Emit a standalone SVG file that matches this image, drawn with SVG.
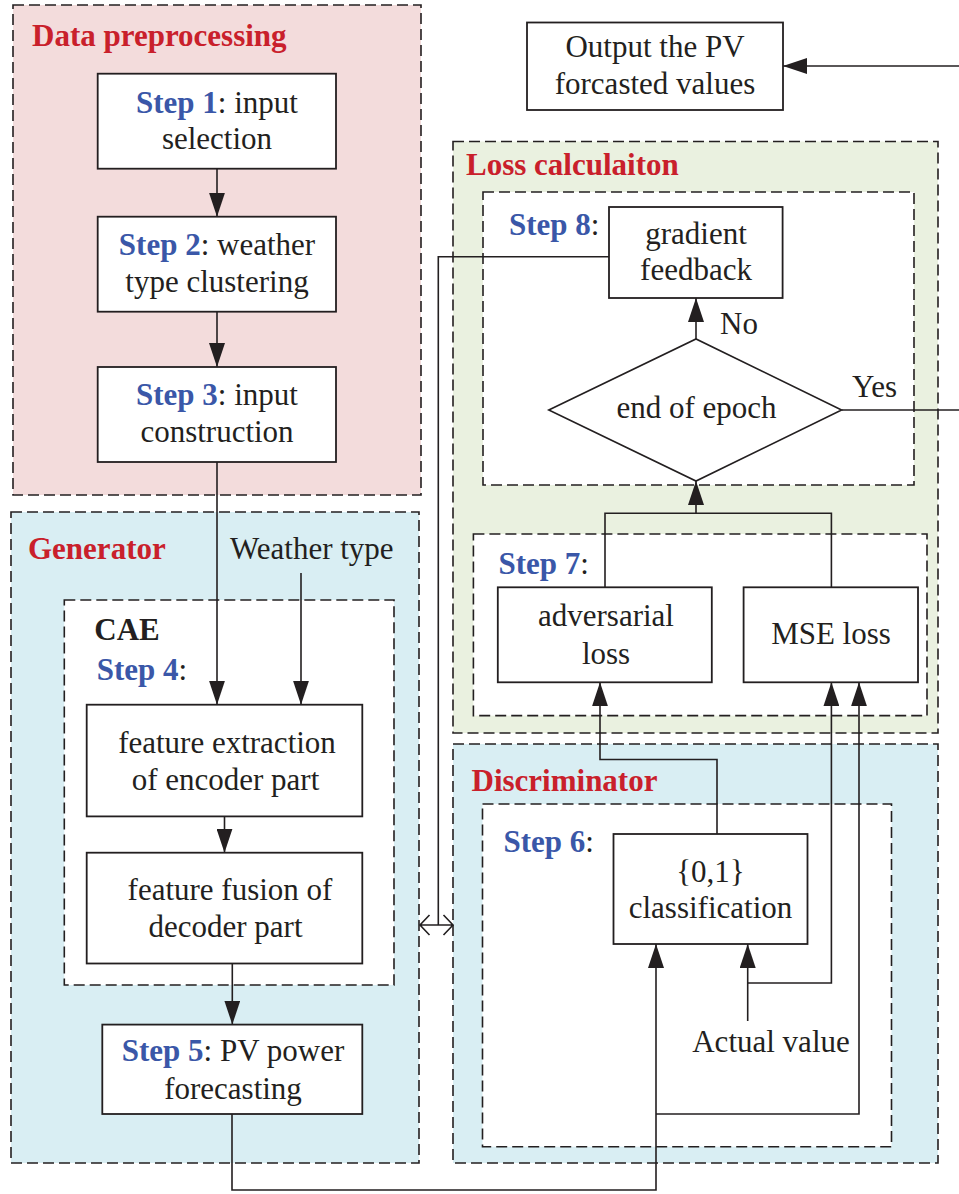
<svg xmlns="http://www.w3.org/2000/svg" width="959" height="1194" viewBox="0 0 959 1194">
<style>
text{font-family:"Liberation Serif","Times New Roman",serif;font-size:31px;fill:#231f20}
.t{font-weight:bold;fill:#c9202b}
.s{font-weight:bold;fill:#3a57a8}
.m{text-anchor:middle}
.box{fill:#fff;stroke:#231f20;stroke-width:1.8}
.grp{stroke:#231f20;stroke-width:1.6;stroke-dasharray:11 5}
.inner{fill:#fff;stroke:#231f20;stroke-width:1.6;stroke-dasharray:11 5}
.ln{fill:none;stroke:#231f20;stroke-width:1.6}
.ar{fill:none;stroke:#231f20;stroke-width:1.6;marker-end:url(#ah)}
</style>
<defs>
<marker id="ah" viewBox="0 0 24 16" refX="24" refY="8" markerWidth="24" markerHeight="16" orient="auto" markerUnits="userSpaceOnUse">
<path d="M0,0 L24,8 L0,16 z" fill="#231f20"/>
</marker>
</defs>
<rect width="959" height="1194" fill="#fff"/>
<g id="containers">
<rect id="data-preprocessing" x="13" y="5" width="408" height="490" fill="#f3dcdc" class="grp"/>
<rect id="generator" x="11" y="512" width="408" height="651" fill="#d9eef3" class="grp"/>
<rect id="loss-calculation" x="453" y="141.5" width="485" height="591.5" fill="#eaf1e0" class="grp"/>
<rect id="discriminator" x="453" y="744" width="485" height="419" fill="#d9eef3" class="grp"/>
<rect id="cae" x="64.3" y="600" width="329.7" height="385" class="inner"/>
<rect id="step8-area" x="483" y="192" width="431" height="293" class="inner"/>
<rect id="step7-area" x="473.4" y="534" width="453.6" height="181.6" class="inner"/>
<rect id="step6-area" x="482.5" y="804" width="409" height="342.7" class="inner"/>
<text class="t" x="32" y="46">Data preprocessing</text>
<text class="t" x="28" y="558.5">Generator</text>
<text class="t" x="466" y="175">Loss calculaiton</text>
<text class="t" x="471.5" y="791">Discriminator</text>
<text x="94.3" y="640" style="font-weight:bold">CAE</text>
<text x="96.7" y="680.4"><tspan class="s">Step 4</tspan>:</text>
<text x="509" y="235"><tspan class="s">Step 8</tspan>:</text>
<text x="498.5" y="573.6"><tspan class="s">Step 7</tspan>:</text>
<text x="503.5" y="852"><tspan class="s">Step 6</tspan>:</text>
<text x="230" y="558.5">Weather type</text>
<text class="m" x="771" y="1052">Actual value</text>
<text x="720" y="334">No</text>
<text x="852" y="397">Yes</text>
</g>
<g id="connectors">
<path class="ar" d="M217,169 V216.7"/>
<path class="ar" d="M217,312 V367"/>
<path class="ar" d="M217,462 V704.7"/>
<path class="ar" d="M301,573 V704.7"/>
<path class="ar" d="M224.5,816.4 V852.7"/>
<path class="ar" d="M232.3,963.5 V1024.6"/>
<path class="ar" d="M232,1114 V1190 H656 V944"/>
<path class="ar" d="M656,1114 H859 V682.3"/>
<path class="ar" d="M747.7,1021 V944"/>
<path class="ar" d="M747.7,983 H831.4 V682.3"/>
<path class="ar" d="M717,834 V759.5 H600 V682.3"/>
<path class="ln" d="M605,587.3 V513.3 H831.4 V587.3"/>
<path class="ar" d="M696,513.3 V481"/>
<path class="ar" d="M696,339 V298"/>
<path class="ln" d="M841.6,410 H959"/>
<path class="ar" d="M959,66 H783"/>
<path class="ln" d="M609,256.7 H438.3 V925"/>
<path class="ln" d="M420,925 H453 M429.5,915 L420,925 L429.5,935 M443.5,915 L453,925 L443.5,935"/>
</g>
<g id="output">
<rect class="box" x="527" y="22.5" width="256" height="87.5"/>
<text class="m" x="655" y="57">Output the PV</text>
<text class="m" x="655" y="94">forcasted values</text>
</g>
<g id="step1">
<rect class="box" x="97.7" y="73.7" width="238.3" height="95"/>
<text class="m" x="217" y="112.7"><tspan class="s">Step 1</tspan>: input</text>
<text class="m" x="217" y="149">selection</text>
</g>
<g id="step2">
<rect class="box" x="97.7" y="216.7" width="238.3" height="95"/>
<text class="m" x="217" y="255"><tspan class="s">Step 2</tspan>: weather</text>
<text class="m" x="217" y="292">type clustering</text>
</g>
<g id="step3">
<rect class="box" x="97.7" y="367" width="238.3" height="95"/>
<text class="m" x="217" y="405"><tspan class="s">Step 3</tspan>: input</text>
<text class="m" x="217" y="442">construction</text>
</g>
<g id="feature-extraction">
<rect class="box" x="86.7" y="704.7" width="275.6" height="111.7"/>
<text class="m" x="227" y="753">feature extraction</text>
<text class="m" x="225.5" y="790">of encoder part</text>
</g>
<g id="feature-fusion">
<rect class="box" x="86.7" y="852.7" width="275.6" height="110.8"/>
<text class="m" x="230" y="899.7">feature fusion of</text>
<text class="m" x="225.5" y="937.3">decoder part</text>
</g>
<g id="step5">
<rect class="box" x="102.3" y="1024.6" width="260" height="89.4"/>
<text class="m" x="233" y="1061.4"><tspan class="s">Step 5</tspan>: PV power</text>
<text class="m" x="233" y="1098.6">forecasting</text>
</g>
<g id="gradient-feedback">
<rect class="box" x="609" y="207" width="173.6" height="91"/>
<text class="m" x="696" y="244">gradient</text>
<text class="m" x="696" y="280">feedback</text>
</g>
<g id="end-of-epoch">
<polygon points="548.8,410 696,339 841.6,410 696,481" fill="#fff" stroke="#231f20" stroke-width="1.6"/>
<text class="m" x="696.5" y="418">end of epoch</text>
</g>
<g id="adversarial-loss">
<rect class="box" x="497.8" y="587.3" width="214" height="95"/>
<text class="m" x="606" y="626">adversarial</text>
<text class="m" x="606" y="663.6">loss</text>
</g>
<g id="mse-loss">
<rect class="box" x="743.6" y="587.3" width="174.4" height="95"/>
<text class="m" x="831" y="644.4">MSE loss</text>
</g>
<g id="classification">
<rect class="box" x="613.5" y="834" width="194" height="110"/>
<text class="m" x="710.5" y="881.5">{0,1}</text>
<text class="m" x="710.5" y="918">classification</text>
</g>
</svg>
